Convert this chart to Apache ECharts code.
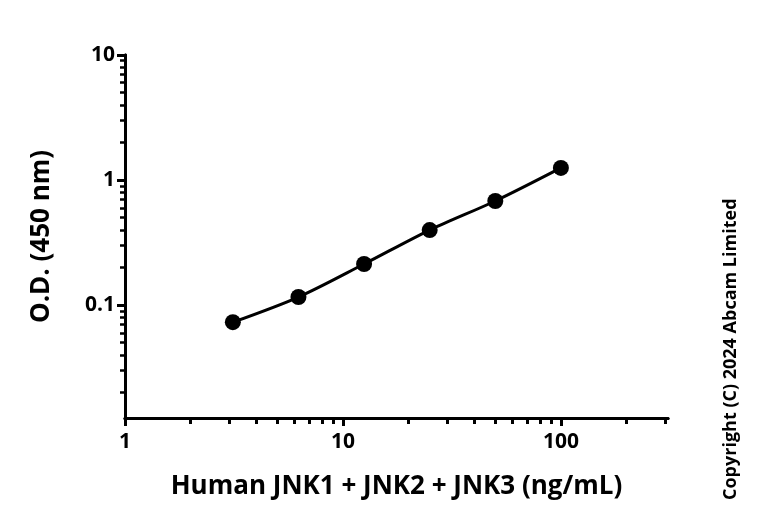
<!DOCTYPE html><html><head><meta charset="utf-8"><script src="https://cdn.jsdelivr.net/npm/echarts@6/dist/echarts.min.js"></script>
<style>html,body{margin:0;padding:0;background:#fff}#c{width:768px;height:527px}</style></head><body><div id="c"></div><script>
const concentrations=[3.125,6.25,12.5,25,50,100];
const odValues=[0.073,0.116,0.213,0.398,0.68,1.25];
const xTickLabels=[1,10,100];
const yTickLabels=[0.1,1,10];
const L=Math.log10;
const xMin=0,xMax=L(310),yMin=L(0.0125),yMax=1;
function minors(lo,hi){const r=[];for(let d=Math.floor(lo);d<=Math.ceil(hi);d++){for(let k=2;k<=9;k++){const v=d+L(k);if(v>=lo-1e-9&&v<=hi+1e-9)r.push(v);}}return r;}
const font='"Open Sans", sans-serif';
const lbl=v=>{const r=Math.pow(10,v);return r>=1?String(Math.round(r)):String(+r.toFixed(2));};
const axisBase={type:'value',splitLine:{show:false},axisLine:{show:true,onZero:false,lineStyle:{color:'#000',width:3}}};
const chart=echarts.init(document.getElementById('c'));
chart.setOption({
 animation:false,
 grid:{left:125,right:100,top:55,bottom:109},
 xAxis:[
  Object.assign({},axisBase,{min:xMin,max:xMax,
   axisTick:{show:true,length:8,lineStyle:{color:'#000',width:3},customValues:xTickLabels.map(L)},
   axisLabel:{show:true,customValues:xTickLabels.map(L),formatter:lbl,fontSize:21,fontWeight:'bold',color:'#000',fontFamily:font,margin:14},
   name:'Human JNK1 + JNK2 + JNK3 (ng/mL)',nameLocation:'middle',nameGap:56,
   nameTextStyle:{fontSize:26,fontWeight:'bold',color:'#000',fontFamily:font}}),
  Object.assign({},axisBase,{min:xMin,max:xMax,position:'bottom',
   axisTick:{show:true,length:6,lineStyle:{color:'#000',width:3},customValues:minors(xMin,xMax)},
   axisLabel:{show:false}})
 ],
 yAxis:[
  Object.assign({},axisBase,{min:yMin,max:yMax,
   axisTick:{show:true,length:8,lineStyle:{color:'#000',width:3},customValues:yTickLabels.map(L)},
   axisLabel:{show:true,customValues:yTickLabels.map(L),formatter:lbl,fontSize:21,fontWeight:'bold',color:'#000',fontFamily:font,margin:10},
   name:'O.D. (450 nm)',nameLocation:'middle',nameGap:70,
   nameTextStyle:{fontSize:26,fontWeight:'bold',color:'#000',fontFamily:font}}),
  Object.assign({},axisBase,{min:yMin,max:yMax,position:'left',
   axisTick:{show:true,length:5,lineStyle:{color:'#000',width:2.5},customValues:minors(yMin,yMax)},
   axisLabel:{show:false}})
 ],
 graphic:[{type:'text',rotation:Math.PI/2,style:{text:'Copyright (C) 2024 Abcam Limited',fontSize:18,fontWeight:'bold',fill:'#000',fontFamily:font},
   x:722,y:500}],
 series:[{type:'line',data:concentrations.map((c,i)=>[L(c),L(odValues[i])]),smooth:0.3,
  symbol:'circle',symbolSize:16,itemStyle:{color:'#000'},lineStyle:{color:'#000',width:3}}]
});
</script></body></html>
